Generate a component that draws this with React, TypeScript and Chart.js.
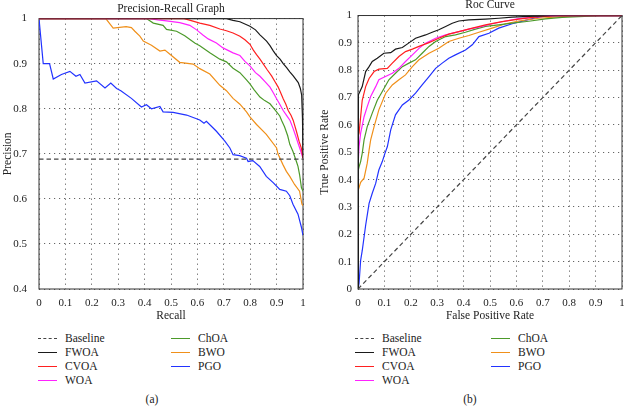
import React, { useEffect, useRef } from "react";
import { Chart, registerables } from "chart.js";
Chart.register(...registerables);

const FONT = "'Liberation Serif', 'Times New Roman', serif";

const seriesNames = ["FWOA", "CVOA", "WOA", "ChOA", "BWO", "PGO"];
const seriesColors = ["#1a1a1a", "#ff2020", "#ff22ff", "#4c9a2a", "#f0901a", "#2233ff"];
const baselineColor = "#444444";

// Precision-Recall curves: [recall, precision]
const prBaseline: [number, number][] = [[0, 0.688], [1, 0.688]];
const prFWOA: [number, number][] = [[0, 1], [0.71, 1], [0.735, 0.996], [0.761, 0.993], [0.799, 0.983], [0.82, 0.975], [0.837, 0.964], [0.862, 0.95], [0.875, 0.94], [0.888, 0.928], [0.9, 0.918], [0.913, 0.91], [0.925, 0.9], [0.938, 0.891], [0.95, 0.882], [0.963, 0.873], [0.982, 0.858], [0.99, 0.845], [0.995, 0.83], [0.998, 0.78], [1, 0.69]];
const prCVOA: [number, number][] = [[0, 1], [0.55, 1], [0.58, 0.995], [0.609, 0.99], [0.647, 0.985], [0.685, 0.977], [0.71, 0.973], [0.735, 0.968], [0.761, 0.961], [0.78, 0.953], [0.799, 0.943], [0.812, 0.93], [0.824, 0.92], [0.837, 0.91], [0.85, 0.899], [0.865, 0.886], [0.881, 0.873], [0.894, 0.86], [0.906, 0.848], [0.915, 0.836], [0.925, 0.822], [0.935, 0.81], [0.944, 0.796], [0.955, 0.785], [0.963, 0.774], [0.975, 0.75], [0.985, 0.728], [0.994, 0.712], [1, 0.69]];
const prWOA: [number, number][] = [[0, 1], [0.42, 1], [0.45, 0.997], [0.483, 0.995], [0.533, 0.991], [0.571, 0.985], [0.597, 0.975], [0.622, 0.963], [0.641, 0.955], [0.672, 0.946], [0.697, 0.935], [0.735, 0.924], [0.761, 0.918], [0.78, 0.905], [0.799, 0.895], [0.82, 0.88], [0.837, 0.872], [0.856, 0.86], [0.875, 0.848], [0.888, 0.835], [0.9, 0.822], [0.912, 0.81], [0.925, 0.796], [0.937, 0.786], [0.951, 0.774], [0.962, 0.757], [0.972, 0.74], [0.981, 0.724], [0.992, 0.705], [1, 0.69]];
const prChOA: [number, number][] = [[0, 1], [0.407, 1], [0.433, 0.99], [0.47, 0.985], [0.483, 0.976], [0.521, 0.972], [0.552, 0.962], [0.59, 0.946], [0.609, 0.94], [0.647, 0.924], [0.685, 0.91], [0.71, 0.904], [0.735, 0.89], [0.761, 0.88], [0.786, 0.864], [0.799, 0.855], [0.815, 0.842], [0.837, 0.826], [0.855, 0.818], [0.875, 0.811], [0.89, 0.8], [0.9, 0.793], [0.912, 0.784], [0.919, 0.774], [0.93, 0.76], [0.942, 0.74], [0.95, 0.721], [0.962, 0.705], [0.975, 0.683], [0.981, 0.672], [0.987, 0.654], [0.994, 0.625], [1, 0.617]];
const prBWO: [number, number][] = [[0, 1], [0.253, 1], [0.281, 0.979], [0.33, 0.982], [0.35, 0.98], [0.363, 0.972], [0.382, 0.961], [0.395, 0.95], [0.426, 0.941], [0.458, 0.928], [0.477, 0.93], [0.496, 0.921], [0.533, 0.903], [0.584, 0.899], [0.609, 0.889], [0.647, 0.877], [0.685, 0.852], [0.71, 0.84], [0.735, 0.823], [0.761, 0.81], [0.786, 0.793], [0.799, 0.782], [0.824, 0.765], [0.861, 0.743], [0.9, 0.713], [0.905, 0.7], [0.924, 0.676], [0.937, 0.661], [0.95, 0.65], [0.968, 0.632], [0.987, 0.617], [0.996, 0.588], [1, 0.585]];
const prPGO: [number, number][] = [[0, 1], [0.016, 0.9], [0.04, 0.9], [0.054, 0.866], [0.085, 0.876], [0.117, 0.883], [0.14, 0.872], [0.155, 0.876], [0.174, 0.857], [0.218, 0.862], [0.25, 0.846], [0.272, 0.857], [0.294, 0.845], [0.31, 0.84], [0.35, 0.823], [0.388, 0.804], [0.407, 0.809], [0.426, 0.8], [0.458, 0.805], [0.47, 0.793], [0.508, 0.792], [0.559, 0.786], [0.609, 0.775], [0.625, 0.768], [0.634, 0.772], [0.672, 0.75], [0.704, 0.728], [0.723, 0.713], [0.735, 0.698], [0.76, 0.696], [0.786, 0.69], [0.792, 0.683], [0.81, 0.685], [0.836, 0.672], [0.861, 0.65], [0.887, 0.636], [0.912, 0.621], [0.937, 0.617], [0.95, 0.607], [0.962, 0.588], [0.981, 0.566], [0.994, 0.537], [1, 0.519]];

// ROC curves: [false positive rate, true positive rate]
const rocBaseline: [number, number][] = [[0, 0], [1, 1]];
const rocFWOA: [number, number][] = [[0, 0], [0, 0.667], [0.003, 0.71], [0.016, 0.74], [0.029, 0.795], [0.042, 0.813], [0.054, 0.832], [0.073, 0.844], [0.098, 0.862], [0.124, 0.864], [0.142, 0.877], [0.168, 0.883], [0.193, 0.9], [0.218, 0.917], [0.256, 0.929], [0.281, 0.939], [0.306, 0.948], [0.332, 0.96], [0.357, 0.972], [0.382, 0.98], [0.42, 0.984], [0.483, 0.987], [0.533, 0.99], [0.584, 0.994], [0.647, 0.997], [0.71, 0.999], [0.75, 1], [1, 1]];
const rocCVOA: [number, number][] = [[0, 0], [0, 0.557], [0.004, 0.57], [0.01, 0.63], [0.016, 0.69], [0.029, 0.74], [0.042, 0.77], [0.061, 0.795], [0.079, 0.804], [0.111, 0.807], [0.13, 0.826], [0.155, 0.85], [0.18, 0.868], [0.206, 0.877], [0.231, 0.887], [0.269, 0.901], [0.306, 0.917], [0.344, 0.932], [0.382, 0.941], [0.433, 0.954], [0.483, 0.966], [0.546, 0.978], [0.609, 0.987], [0.685, 0.996], [0.773, 1], [1, 1]];
const rocWOA: [number, number][] = [[0, 0], [0, 0.45], [0.004, 0.52], [0.01, 0.57], [0.023, 0.63], [0.035, 0.667], [0.048, 0.704], [0.067, 0.74], [0.079, 0.765], [0.098, 0.774], [0.13, 0.789], [0.155, 0.807], [0.18, 0.832], [0.206, 0.856], [0.231, 0.88], [0.256, 0.899], [0.294, 0.917], [0.332, 0.929], [0.382, 0.941], [0.42, 0.95], [0.458, 0.957], [0.508, 0.97], [0.559, 0.98], [0.609, 0.989], [0.685, 0.996], [0.76, 1], [1, 1]];
const rocChOA: [number, number][] = [[0, 0], [0, 0.43], [0.004, 0.447], [0.01, 0.466], [0.016, 0.496], [0.023, 0.545], [0.035, 0.594], [0.054, 0.643], [0.073, 0.69], [0.092, 0.722], [0.117, 0.765], [0.142, 0.789], [0.168, 0.813], [0.193, 0.826], [0.218, 0.838], [0.243, 0.862], [0.269, 0.887], [0.294, 0.905], [0.332, 0.923], [0.369, 0.929], [0.407, 0.939], [0.445, 0.95], [0.483, 0.96], [0.533, 0.966], [0.584, 0.972], [0.647, 0.979], [0.71, 0.988], [0.773, 0.993], [0.836, 0.996], [0.9, 0.999], [0.94, 1], [1, 1]];
const rocBWO: [number, number][] = [[0, 0], [0, 0.26], [0.001, 0.36], [0.01, 0.39], [0.023, 0.405], [0.035, 0.46], [0.042, 0.508], [0.048, 0.545], [0.061, 0.594], [0.079, 0.655], [0.105, 0.716], [0.13, 0.746], [0.155, 0.765], [0.18, 0.783], [0.206, 0.813], [0.231, 0.838], [0.269, 0.862], [0.306, 0.88], [0.344, 0.905], [0.382, 0.917], [0.42, 0.927], [0.458, 0.939], [0.508, 0.954], [0.559, 0.97], [0.609, 0.98], [0.685, 0.99], [0.773, 0.996], [0.86, 1], [1, 1]];
const rocPGO: [number, number][] = [[0, 0], [0.004, 0.02], [0.01, 0.105], [0.016, 0.14], [0.029, 0.233], [0.042, 0.313], [0.054, 0.35], [0.067, 0.386], [0.079, 0.435], [0.092, 0.466], [0.102, 0.496], [0.111, 0.52], [0.124, 0.582], [0.142, 0.637], [0.168, 0.673], [0.193, 0.691], [0.218, 0.716], [0.243, 0.746], [0.269, 0.777], [0.294, 0.807], [0.319, 0.826], [0.344, 0.844], [0.369, 0.856], [0.407, 0.874], [0.433, 0.893], [0.458, 0.923], [0.496, 0.935], [0.533, 0.954], [0.584, 0.97], [0.634, 0.982], [0.685, 0.994], [0.735, 1], [1, 1]];

const prSeries = [prFWOA, prCVOA, prWOA, prChOA, prBWO, prPGO];
const rocSeries = [rocFWOA, rocCVOA, rocWOA, rocChOA, rocBWO, rocPGO];

const framePlugin = {
  id: "frame",
  beforeDatasetsDraw(chart: any) {
    const { ctx, chartArea } = chart;
    const { left, top, right, bottom } = chartArea;
    ctx.save();
    ctx.strokeStyle = "#333";
    ctx.lineWidth = 1;
    ctx.setLineDash([]);
    ctx.strokeRect(left, top, right - left, bottom - top);
    ctx.restore();
  },
};

const fmt = (v: any) => String(Math.round(Number(v) * 10) / 10);

type PanelProps = {
  title: string;
  xTitle: string;
  yTitle: string;
  yMin: number;
  baseline: [number, number][];
  series: [number, number][][];
  yAxisWidth: number;
  yTickPad: number;
  yTitlePad: number;
  rightPad: number;
};

function Panel(p: PanelProps) {
  const ref = useRef<HTMLCanvasElement | null>(null);
  useEffect(() => {
    if (!ref.current) return;
    const datasets: any[] = [
      {
        label: "Baseline",
        data: p.baseline.map(([x, y]) => ({ x, y })),
        borderColor: baselineColor,
        borderWidth: 1.2,
        borderDash: [4.5, 3],
        pointRadius: 0,
        fill: false,
      },
      ...p.series.map((s, i) => ({
        label: seriesNames[i],
        data: s.map(([x, y]) => ({ x, y })),
        borderColor: seriesColors[i],
        borderWidth: 1.2,
        pointRadius: 0,
        fill: false,
        tension: 0,
      })),
    ];
    const tickFont = { family: FONT, size: 11 };
    const grid = { color: "#666", lineWidth: 1, drawTicks: false };
    const border = { display: false, dash: [1.2, 3.8] };
    const chart = new Chart(ref.current, {
      type: "line",
      data: { datasets },
      plugins: [framePlugin],
      options: {
        animation: false,
        responsive: false,
        devicePixelRatio: 1,
        layout: { padding: { left: 0, right: p.rightPad, top: 0, bottom: 0 } },
        plugins: {
          legend: { display: false },
          tooltip: { enabled: false },
          title: {
            display: true,
            text: p.title,
            fullSize: false,
            color: "#222",
            font: { family: FONT, size: 11.5, weight: "normal", lineHeight: 0.95 },
            padding: { top: 0, bottom: 4.6 },
          },
        },
        scales: {
          x: {
            type: "linear",
            min: 0,
            max: 1,
            afterFit: (s: any) => {
              s.height = 36;
              s.paddingLeft = 0;
              s.paddingRight = 0;
            },
            ticks: { stepSize: 0.1, color: "#222", font: tickFont, padding: 8, callback: fmt, maxRotation: 0 },
            grid,
            border,
            title: { display: true, text: p.xTitle, color: "#222", font: { family: FONT, size: 11.5 }, padding: { top: 0, bottom: 2 } },
          },
          y: {
            type: "linear",
            min: p.yMin,
            max: 1,
            afterFit: (s: any) => {
              s.width = p.yAxisWidth;
            },
            ticks: { stepSize: 0.1, color: "#222", font: tickFont, padding: p.yTickPad, callback: fmt },
            grid,
            border,
            title: { display: true, text: p.yTitle, color: "#222", font: { family: FONT, size: 11.5 }, padding: { top: p.yTitlePad, bottom: 0 } },
          },
        },
      } as any,
    });
    return () => chart.destroy();
  }, []);
  return <canvas ref={ref} width={312} height={325} style={{ display: "block", width: 312, height: 325 }} />;
}

function LegendLine({ color, dashed }: { color: string; dashed?: boolean }) {
  return (
    <span
      style={{
        display: "inline-block",
        width: 19,
        height: 0,
        borderTop: `1.4px ${dashed ? "dashed" : "solid"} ${color}`,
        marginRight: 8,
        verticalAlign: "middle",
      }}
    />
  );
}

function Legend({ left, col2 }: { left: number; col2: number }) {
  const col1Items = [{ name: "Baseline", color: baselineColor, dashed: true }].concat(
    seriesNames.slice(0, 3).map((n, i) => ({ name: n, color: seriesColors[i], dashed: false }))
  );
  const col2Items = seriesNames.slice(3).map((n, i) => ({ name: n, color: seriesColors[i + 3], dashed: false }));
  const rowY = [338, 352, 366, 380];
  const item = (it: any, x: number, y: number) => (
    <div
      key={it.name}
      style={{
        position: "absolute",
        left: x,
        top: y - 7,
        height: 14,
        lineHeight: "14px",
        display: "flex",
        alignItems: "center",
        fontFamily: FONT,
        fontSize: 11.5,
        color: "#222",
        whiteSpace: "nowrap",
      }}
    >
      <LegendLine color={it.color} dashed={it.dashed} />
      <span>{it.name}</span>
    </div>
  );
  return (
    <>
      {col1Items.map((it, i) => item(it, left, rowY[i]))}
      {col2Items.map((it, i) => item(it, col2, rowY[i]))}
    </>
  );
}

export default function App() {
  return (
    <div style={{ position: "absolute", left: 0, top: 0, width: 624, height: 407, background: "#fff", overflow: "hidden" }}>
      <div style={{ position: "absolute", left: 0, top: 0 }}>
        <Panel
          title="Precision-Recall Graph"
          xTitle="Recall"
          yTitle="Precision"
          yMin={0.4}
          baseline={prBaseline}
          series={prSeries}
          yAxisWidth={39}
          yTickPad={12}
          yTitlePad={1.5}
          rightPad={9}
        />
      </div>
      <div style={{ position: "absolute", left: 312, top: 0 }}>
        <Panel
          title="Roc Curve"
          xTitle="False Positive Rate"
          yTitle="True Positive Rate"
          yMin={0}
          baseline={rocBaseline}
          series={rocSeries}
          yAxisWidth={46}
          yTickPad={6}
          yTitlePad={6.4}
          rightPad={2}
        />
      </div>
      <Legend left={38} col2={171} />
      <Legend left={355} col2={491} />
      <div style={{ position: "absolute", left: 132, width: 40, top: 393, textAlign: "center", fontFamily: FONT, fontSize: 11.5, color: "#222" }}>(a)</div>
      <div style={{ position: "absolute", left: 450, width: 40, top: 393, textAlign: "center", fontFamily: FONT, fontSize: 11.5, color: "#222" }}>(b)</div>
    </div>
  );
}
